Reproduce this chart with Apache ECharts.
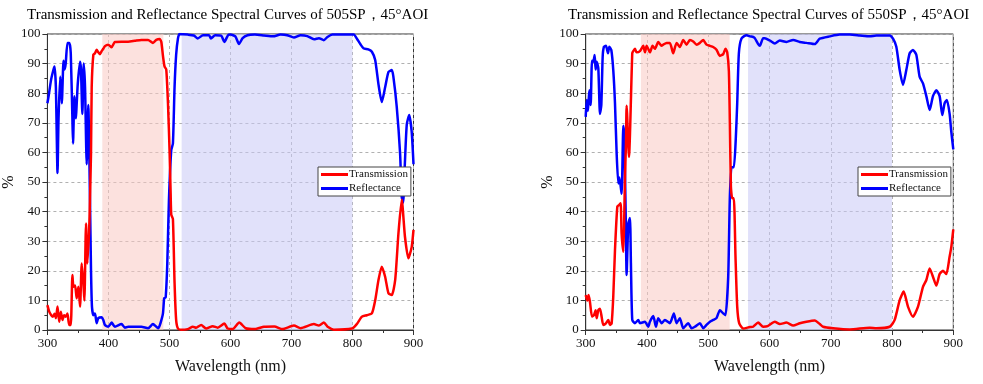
<!DOCTYPE html>
<html><head><meta charset="utf-8">
<script src="https://cdn.jsdelivr.net/npm/echarts@6/dist/echarts.min.js"></script>
<style>html,body{margin:0;padding:0;background:#fff}#c{width:983px;height:384px}</style>
</head><body><div id="c"></div>
<script>
// ---- Left chart (505SP) ----
const T505_x = [300,303,306.3,309,311.7,313.9,316.6,319.3,322,324.7,327.4,330.2,332.9,335.6,338.3,341,342.7,345.4,348,350.8,353.5,356.3,359,360.6,363.3,365.5,368.2,369.3,371.5,372.6,375.3,378,380.7,383.4,386,388.9,391.6,394.3,399.7,405.2,410.6,421.5,432.3,443.2,454,465,473,478.5,484,486.7,489.4,492,494.8,497.6,500.3,502,503,505.7,508.4,511,513.9,519.3,530,538.4,543.8,552,560,571,579,590,595.4,603.5,614.4,625,640,655,672,685,704,715,736.7,745,753,760,769.3,799,807,815.5,823.6,831.8,837.2,842.6,848,853.5,859,864.4,870,875.3,880.7,886,891.6,897,900];
const T505_y = [8.4,6.2,5,4.5,5.5,4,7.9,2.8,6.2,3.4,5,4.5,5.6,1.7,1.7,18.6,14.6,15,10.7,14.6,7.9,22.5,15.7,10,36,22.5,32.6,40,60,82,93,93.5,94.7,93.8,93.2,94.2,95,95.9,96.4,95.5,97.3,97.4,97.4,97.7,98,98,97,98,98.3,97.3,92.6,89,88,76.6,60,46,39,37.5,16,3.4,0.5,0.1,0.3,1.1,0.8,1.7,0.5,1.3,0.8,2.2,0.5,0.3,2.5,0.6,0.3,1.1,1.2,0.3,1.5,0.6,2,1.5,2.5,1,0.1,0.5,2,4.5,5,5.6,10,16.9,21.4,18,12.4,11.8,16.9,32.6,44,31.5,24.2,28,33.8];
const R505_x = [300,302,306,310,311.7,313.9,316.6,318.2,321,323.6,326.4,328,330,332.9,336,338.3,341,342,344.3,346.5,349.7,353.5,355,357.3,359.5,361.7,364.4,367,369.8,371.5,373,375.3,378,380.7,383.4,388.9,391.6,394.3,399.7,405.2,410.6,421.5,427,432.3,443.2,454,465,473,478.5,482,485.6,489.4,491.4,493.8,496.5,499.2,503,505.7,508.4,511,513.9,516.6,530,540,546.5,555,565,568,575,585,590,596,600,608,614,620,628,640,655,670,682,693,704,715,726,737,745,753,759,767,802,807.3,812.8,818,826,831.8,837.2,842.6,848,853.5,859,864.4,867,872.5,878,880.7,883,886,889,893,897,900];
const R505_y = [76.6,79,84.5,88,89,82,53,71,85.6,76.6,91,88,90,97,97,93.5,71,63,79,71.5,83,90.6,88,73,90,82,56,76,44,20,8,5,5.6,2.3,4,4.3,3.4,1.7,1.1,2.5,1.1,2,0.8,1.1,1.1,1.1,0.6,2,1.1,0.6,2.5,5.6,10.7,11,22.5,44,60.8,63,82,93,98.4,100,99.8,99.5,98.5,99.6,99.6,98.5,99.6,99.4,97.3,99.6,99.8,99.2,96.6,98.6,99.6,99.8,99.5,99.2,99.8,99.6,98.8,99.6,99.3,98.2,98.6,97.9,99,99.8,99.8,98.4,96.6,95.2,94.8,94,91.2,83,77,82,87.2,87.8,85.6,75.5,59.7,45,43,57,69.5,72.6,67,56];
const band505_T = [390, 490];
const band505_R = [520, 800];

// ---- Right chart (550SP) ----
const T550_x = [300,302.7,304.8,307,310.3,313.5,316.2,317.9,320.6,323.3,326,328.7,333,336.9,339.6,342.3,345,347.8,351.6,354.3,357,358.6,361.4,363,364,365.7,366.8,370.6,376,377.6,380.4,383,388.5,394,396.7,399.4,402,404.8,409.1,413,418.4,423.9,426.6,432,437.4,442.8,448.3,453.7,459.2,464.6,470,475.5,481,486.4,491.8,497.2,502.7,508,513.5,519,524.4,528.2,531,533.7,535.3,537,539.2,541.8,544.5,547.3,550.5,557,568,573.3,581.5,589.6,597,608.7,616.8,627.7,638.6,649.4,660.3,673.9,682,687.5,703.8,731,763.6,774.4,796.2,804.3,812.5,819,826,834.2,842.4,850.5,856,861.4,866.8,872.3,877.7,883.2,888.6,894,896.7,900];
const T550_y = [11.8,10,11.8,9.4,4.5,5,6.7,4,6.7,7.2,4.5,1.7,2.2,3.4,1.7,2.2,11.3,27,41.7,42.2,42.8,32.6,26.4,39,51,62.5,75.8,58.5,93.5,94.2,95,93.8,94.2,96,93.8,96,95,93.8,96,95,97.3,96,96.4,97,97,93.5,97,95.6,98,96.4,98,97.5,96.4,97,98,96.4,96,95.6,94.7,92.6,93.2,95,93.8,87.4,70,48.5,44.5,44.5,24.8,7.9,2.3,0.5,1,1.1,2.5,1.1,1.3,2.8,2,2.5,1.5,2.3,2.8,3.2,2,1.1,0.6,0.2,0.8,0.6,1.1,3.4,10.1,13,7.9,4.5,7.9,14.6,16.9,20.8,18,15,18.9,20,18.9,24.8,28,34];
const R550_x = [300,301.6,303.7,305.9,308.1,310.3,312.4,314.6,316.2,317.9,320.6,323.3,325.5,327.7,329.8,333,336.4,338.5,341.8,345,347.8,350.5,353.2,355,358.6,361.4,363,365.2,366.8,369.5,372.2,373.8,376,380.4,385.8,388.5,396.7,402,404.8,410.3,414.6,418.4,423.9,429.3,437.4,443.9,448.3,453.7,459.2,467.3,472.8,478.2,486.4,491.8,497.2,502.7,508,513.5,519,524.4,528.2,532.6,535.3,538,541.8,545.1,547.3,550,554.3,562.5,568,573.4,576,581.5,584.2,589.6,592.4,600.5,608.7,616.8,627.7,638.6,649.4,660.3,673.9,682,698.3,714.6,731,747.3,763.6,774.4,796.2,801.6,807,812.5,817.9,823.3,828.8,834.2,839.6,845,850.5,856,861.4,866.8,872.3,877.7,882,885.8,889.6,894,896.7,900];
const R550_y = [72,77.7,74,81,76,91,90.6,92.9,88,90.6,88.4,73,76,92.3,95.7,96,93.5,95.7,94.6,87.8,76.6,59.7,49.5,51.5,46,69,65,40,18.6,36,37.8,22.5,3.4,2.3,3.4,2.3,2.8,1.1,2.8,4.7,1.1,4,2.3,3.4,2.3,5.6,2.3,4,0.6,2.3,0.6,1.1,2.3,0.6,1.7,2.8,3.4,4,6.7,5.6,5,18,45,55,55,65.3,76.6,93.5,98.5,99.6,99.2,99,98.6,96.6,96,98.6,98.6,97.8,96.8,97.8,97.3,98,97.3,97,96.6,98.4,99.2,99.8,99.8,99.5,99.2,99.5,99.5,98.4,95.7,87.8,82.8,87.8,93.5,94.6,93,85.6,83.3,79,74.3,79,81,79,72.6,76.6,77.7,73,67,61];
const band550_T = [390, 535];
const band550_R = [565, 800];

const titles = ['Transmission and Reflectance Spectral Curves of 505SP，45°AOI',
                'Transmission and Reflectance Spectral Curves of 550SP，45°AOI'];
const xTicks = {min: 300, max: 900, interval: 100};
const yTicks = {min: 0, max: 100, interval: 10};

const zip = (xs, ys) => xs.map((x, i) => [x, ys[i]]);
const FONT = '"Liberation Serif", "Times New Roman", serif';

const grids = [
  {left: 45.5, right: 569.5, top: 34, bottom: 54},
  {left: 585.7, right: 29.7, top: 34, bottom: 54}
];

function xAxis(i) {
  return {
    type: 'value', gridIndex: i, min: xTicks.min, max: xTicks.max, interval: xTicks.interval,
    name: 'Wavelength (nm)', nameLocation: 'middle', nameGap: 29,
    nameTextStyle: {fontFamily: FONT, fontSize: 16, color: '#111'},
    axisLine: {show: true, lineStyle: {color: '#333', width: 1}},
    axisTick: {show: true, length: 5, lineStyle: {color: '#333'}},
    minorTick: {show: true, splitNumber: 2, length: 3, lineStyle: {color: '#333'}},
    axisLabel: {fontFamily: FONT, fontSize: 13, color: '#111', margin: 7},
    splitLine: {show: true, lineStyle: {color: '#b0b0b0', type: [3, 3], width: 1}}
  };
}
function yAxis(i) {
  return {
    type: 'value', gridIndex: i, min: yTicks.min, max: yTicks.max, interval: yTicks.interval,
    name: '%', nameLocation: 'middle', nameGap: 30,
    nameTextStyle: {fontFamily: FONT, fontSize: 16, color: '#111'},
    axisLine: {show: true, lineStyle: {color: '#333', width: 1}},
    axisTick: {show: true, length: 5, lineStyle: {color: '#333'}},
    minorTick: {show: true, splitNumber: 2, length: 3, lineStyle: {color: '#333'}},
    axisLabel: {fontFamily: FONT, fontSize: 13, color: '#111', margin: 7},
    splitLine: {show: true, lineStyle: {color: '#b0b0b0', type: [3, 3], width: 1}}
  };
}
function lineSeries(name, data, color, i, bands) {
  const s = {
    name, type: 'line', xAxisIndex: i, yAxisIndex: i, data, showSymbol: false, symbol: 'none',
    smooth: 0.2, lineStyle: {color, width: 2.5}, itemStyle: {color}, z: name === 'Transmission' ? 4 : 3,
    animation: false
  };
  if (bands) {
    s.markArea = {
      silent: true,
      data: [
        [{xAxis: bands[0][0], itemStyle: {color: 'rgba(250,200,195,0.55)'}}, {xAxis: bands[0][1]}],
        [{xAxis: bands[1][0], itemStyle: {color: 'rgba(200,200,245,0.55)'}}, {xAxis: bands[1][1]}]
      ]
    };
  }
  return s;
}
function legend(i, left) {
  return {
    show: true, orient: 'vertical', left, top: 167, itemWidth: 27, itemHeight: 3, icon: 'rect',
    itemGap: 3, padding: [2, 3, 2, 3], borderColor: '#444', borderWidth: 1, backgroundColor: '#fff',
    textStyle: {fontFamily: FONT, fontSize: 11, color: '#111', padding: [0, 0, 0, -4]},
    data: ['Transmission', 'Reflectance']
  };
}

const chart = echarts.init(document.getElementById('c'), null, {renderer: 'canvas'});
chart.setOption({
  animation: false,
  backgroundColor: '#fff',
  title: [
    {text: titles[0], left: 22, top: 3, textStyle: {fontFamily: FONT, fontSize: 15, fontWeight: 'normal', color: '#000'}},
    {text: titles[1], left: 563, top: 3, textStyle: {fontFamily: FONT, fontSize: 15, fontWeight: 'normal', color: '#000'}}
  ],
  legend: [legend(0, 318), legend(1, 858)],
  grid: grids.map(g => Object.assign({show: true, borderColor: '#333', borderWidth: 1, backgroundColor: 'transparent'}, g)),
  xAxis: [xAxis(0), xAxis(1)],
  yAxis: [yAxis(0), yAxis(1)],
  series: [
    lineSeries('Transmission', zip(T505_x, T505_y), '#ff0000', 0, null),
    lineSeries('Reflectance', zip(R505_x, R505_y), '#0000ff', 0, [band505_T, band505_R]),
    lineSeries('Transmission', zip(T550_x, T550_y), '#ff0000', 1, null),
    lineSeries('Reflectance', zip(R550_x, R550_y), '#0000ff', 1, [band550_T, band550_R])
  ]
});
</script></body></html>
